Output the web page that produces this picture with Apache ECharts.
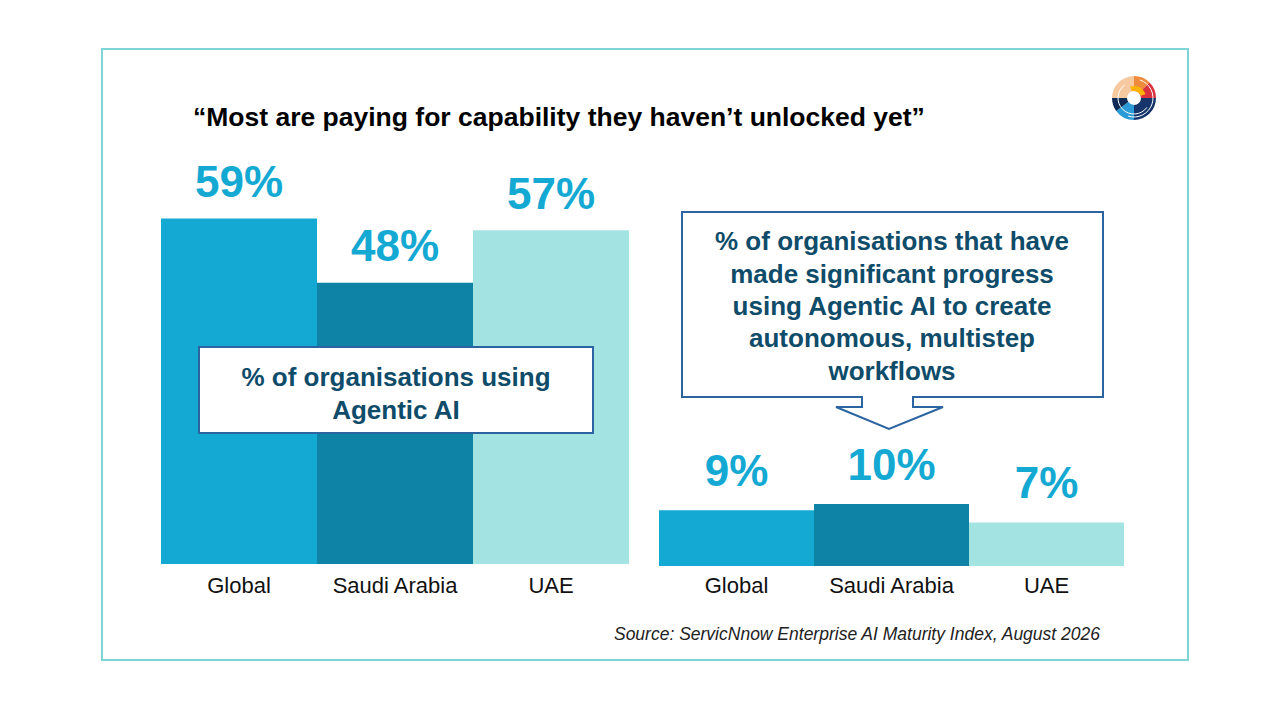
<!DOCTYPE html>
<html>
<head>
<meta charset="utf-8">
<title>Agentic AI</title>
<script src="https://cdn.jsdelivr.net/npm/echarts@6/dist/echarts.min.js"></script>
<style>
  html, body { margin: 0; padding: 0; background: #fff; }
  #main { width: 1280px; height: 720px; }
</style>
</head>
<body>
<div id="main"></div>
<script>
// data
const categories = ['Global', 'Saudi Arabia', 'UAE']
const usingAgentic = [59, 48, 57]
const progressAgentic = [9, 10, 7]
const barColors = ['#14a9d3', '#0e83a5', '#a3e4e2']

const titleText = '\u201cMost are paying for capability they haven\u2019t unlocked yet\u201d'
const leftNote = '% of organisations using\nAgentic AI'
const rightNote = '% of organisations that have\nmade significant progress\nusing Agentic AI to create\nautonomous, multistep\nworkflows'
const sourceText = 'Source: ServicNnow Enterprise AI Maturity Index, August 2026'

const chart = echarts.init(document.getElementById('main'), null, { renderer: 'svg' })

const sans = '"Liberation Sans", Arial, sans-serif'
const noteColor = '#0f4c6a'
const boxColor = '#2b64a0'

function barSeries(idx, values, dist) {
  return {
    type: 'bar',
    xAxisIndex: idx,
    yAxisIndex: idx,
    data: values,
    barWidth: '100%',
    itemStyle: { color: p => barColors[p.dataIndex] },
    label: {
      show: true,
      position: 'top',
      distance: dist,
      formatter: p => p.value + '%',
      color: '#14a9d3',
      fontFamily: sans,
      fontWeight: 'bold',
      fontSize: 44
    },
    silent: true
  }
}

function catAxis(idx, margin) {
  return {
    type: 'category',
    gridIndex: idx,
    data: categories,
    axisLine: { show: false },
    axisTick: { show: false },
    axisLabel: { interval: 0, color: '#111', fontFamily: sans, fontSize: 22, margin: margin }
  }
}

function valAxis(idx, max) {
  return {
    type: 'value',
    gridIndex: idx,
    min: 0,
    max: max,
    show: false,
    splitLine: { show: false }
  }
}

const option = {
  animation: false,
  backgroundColor: '#fff',
  grid: [
    { left: 161, top: 154, width: 468, height: 410 },
    { left: 659, top: 442, width: 465, height: 124 }
  ],
  xAxis: [catAxis(0, 10), catAxis(1, 8)],
  yAxis: [valAxis(0, 70), valAxis(1, 20)],
  series: [barSeries(0, usingAgentic, 15), barSeries(1, progressAgentic, 18)],
  graphic: [
    {
      type: 'rect', z: 0, silent: true,
      shape: { x: 102, y: 49, width: 1086, height: 611 },
      style: { fill: 'none', stroke: '#7dd5d7', lineWidth: 2 }
    },
    {
      type: 'text', z: 10, x: 193, y: 117,
      style: { text: titleText, fill: '#000', font: 'bold 26.5px ' + sans, verticalAlign: 'middle' }
    },
    // left callout
    {
      type: 'rect', z: 50,
      shape: { x: 199, y: 347, width: 394, height: 86 },
      style: { fill: '#fff', stroke: boxColor, lineWidth: 2 }
    },
    {
      type: 'text', z: 51, x: 396, y: 393,
      style: {
        text: leftNote, fill: noteColor, font: 'bold 26px ' + sans,
        align: 'center', verticalAlign: 'middle', lineHeight: 33
      }
    },
    // right callout with arrow
    {
      type: 'polygon', z: 50,
      shape: {
        points: [[682, 212], [1103, 212], [1103, 397], [913, 397], [913, 407], [943, 407],
          [889, 429], [836, 407], [862, 407], [862, 397], [682, 397]]
      },
      style: { fill: '#fff', stroke: boxColor, lineWidth: 2 }
    },
    {
      type: 'text', z: 51, x: 892, y: 306,
      style: {
        text: rightNote, fill: noteColor, font: 'bold 26px ' + sans,
        align: 'center', verticalAlign: 'middle', lineHeight: 32.3
      }
    },
    {
      type: 'text', z: 10, x: 1100, y: 634,
      style: {
        text: sourceText, fill: '#222', font: 'italic 17.5px ' + sans,
        align: 'right', verticalAlign: 'middle'
      }
    },
    // logo, rough ring
    {
      type: 'group', x: 1134, y: 98, z: 20,
      children: [
        { type: 'sector', shape: { r: 22, r0: 7, startAngle: Math.PI, endAngle: Math.PI * 1.5 }, style: { fill: '#f7c9a0' } },
        { type: 'sector', shape: { r: 22, r0: 7, startAngle: Math.PI * 1.5, endAngle: Math.PI * 1.75 }, style: { fill: '#f08a3c' } },
        { type: 'sector', shape: { r: 22, r0: 7, startAngle: Math.PI * 1.75, endAngle: Math.PI * 2 }, style: { fill: '#d8323f' } },
        { type: 'sector', shape: { r: 22, r0: 7, startAngle: 0, endAngle: Math.PI * 0.5 }, style: { fill: '#16356b' } },
        { type: 'sector', shape: { r: 22, r0: 7, startAngle: Math.PI * 0.5, endAngle: Math.PI * 0.8 }, style: { fill: '#2a9bd6' } },
        { type: 'sector', shape: { r: 22, r0: 7, startAngle: Math.PI * 0.8, endAngle: Math.PI }, style: { fill: '#0f2a55' } },
        { type: 'sector', shape: { r: 12, r0: 7, startAngle: Math.PI * 1.4, endAngle: Math.PI * 1.9 }, style: { fill: '#ffb300' } },
        { type: 'arc', shape: { r: 16, startAngle: Math.PI * 0.2, endAngle: Math.PI * 1.3 }, style: { stroke: '#fff', lineWidth: 1, fill: 'none' } },
        { type: 'arc', shape: { r: 19, startAngle: Math.PI * 1.6, endAngle: Math.PI * 0.6 }, style: { stroke: '#fff', lineWidth: 1, fill: 'none' } }
      ]
    }
  ]
}

chart.setOption(option)
</script>
</body>
</html>
